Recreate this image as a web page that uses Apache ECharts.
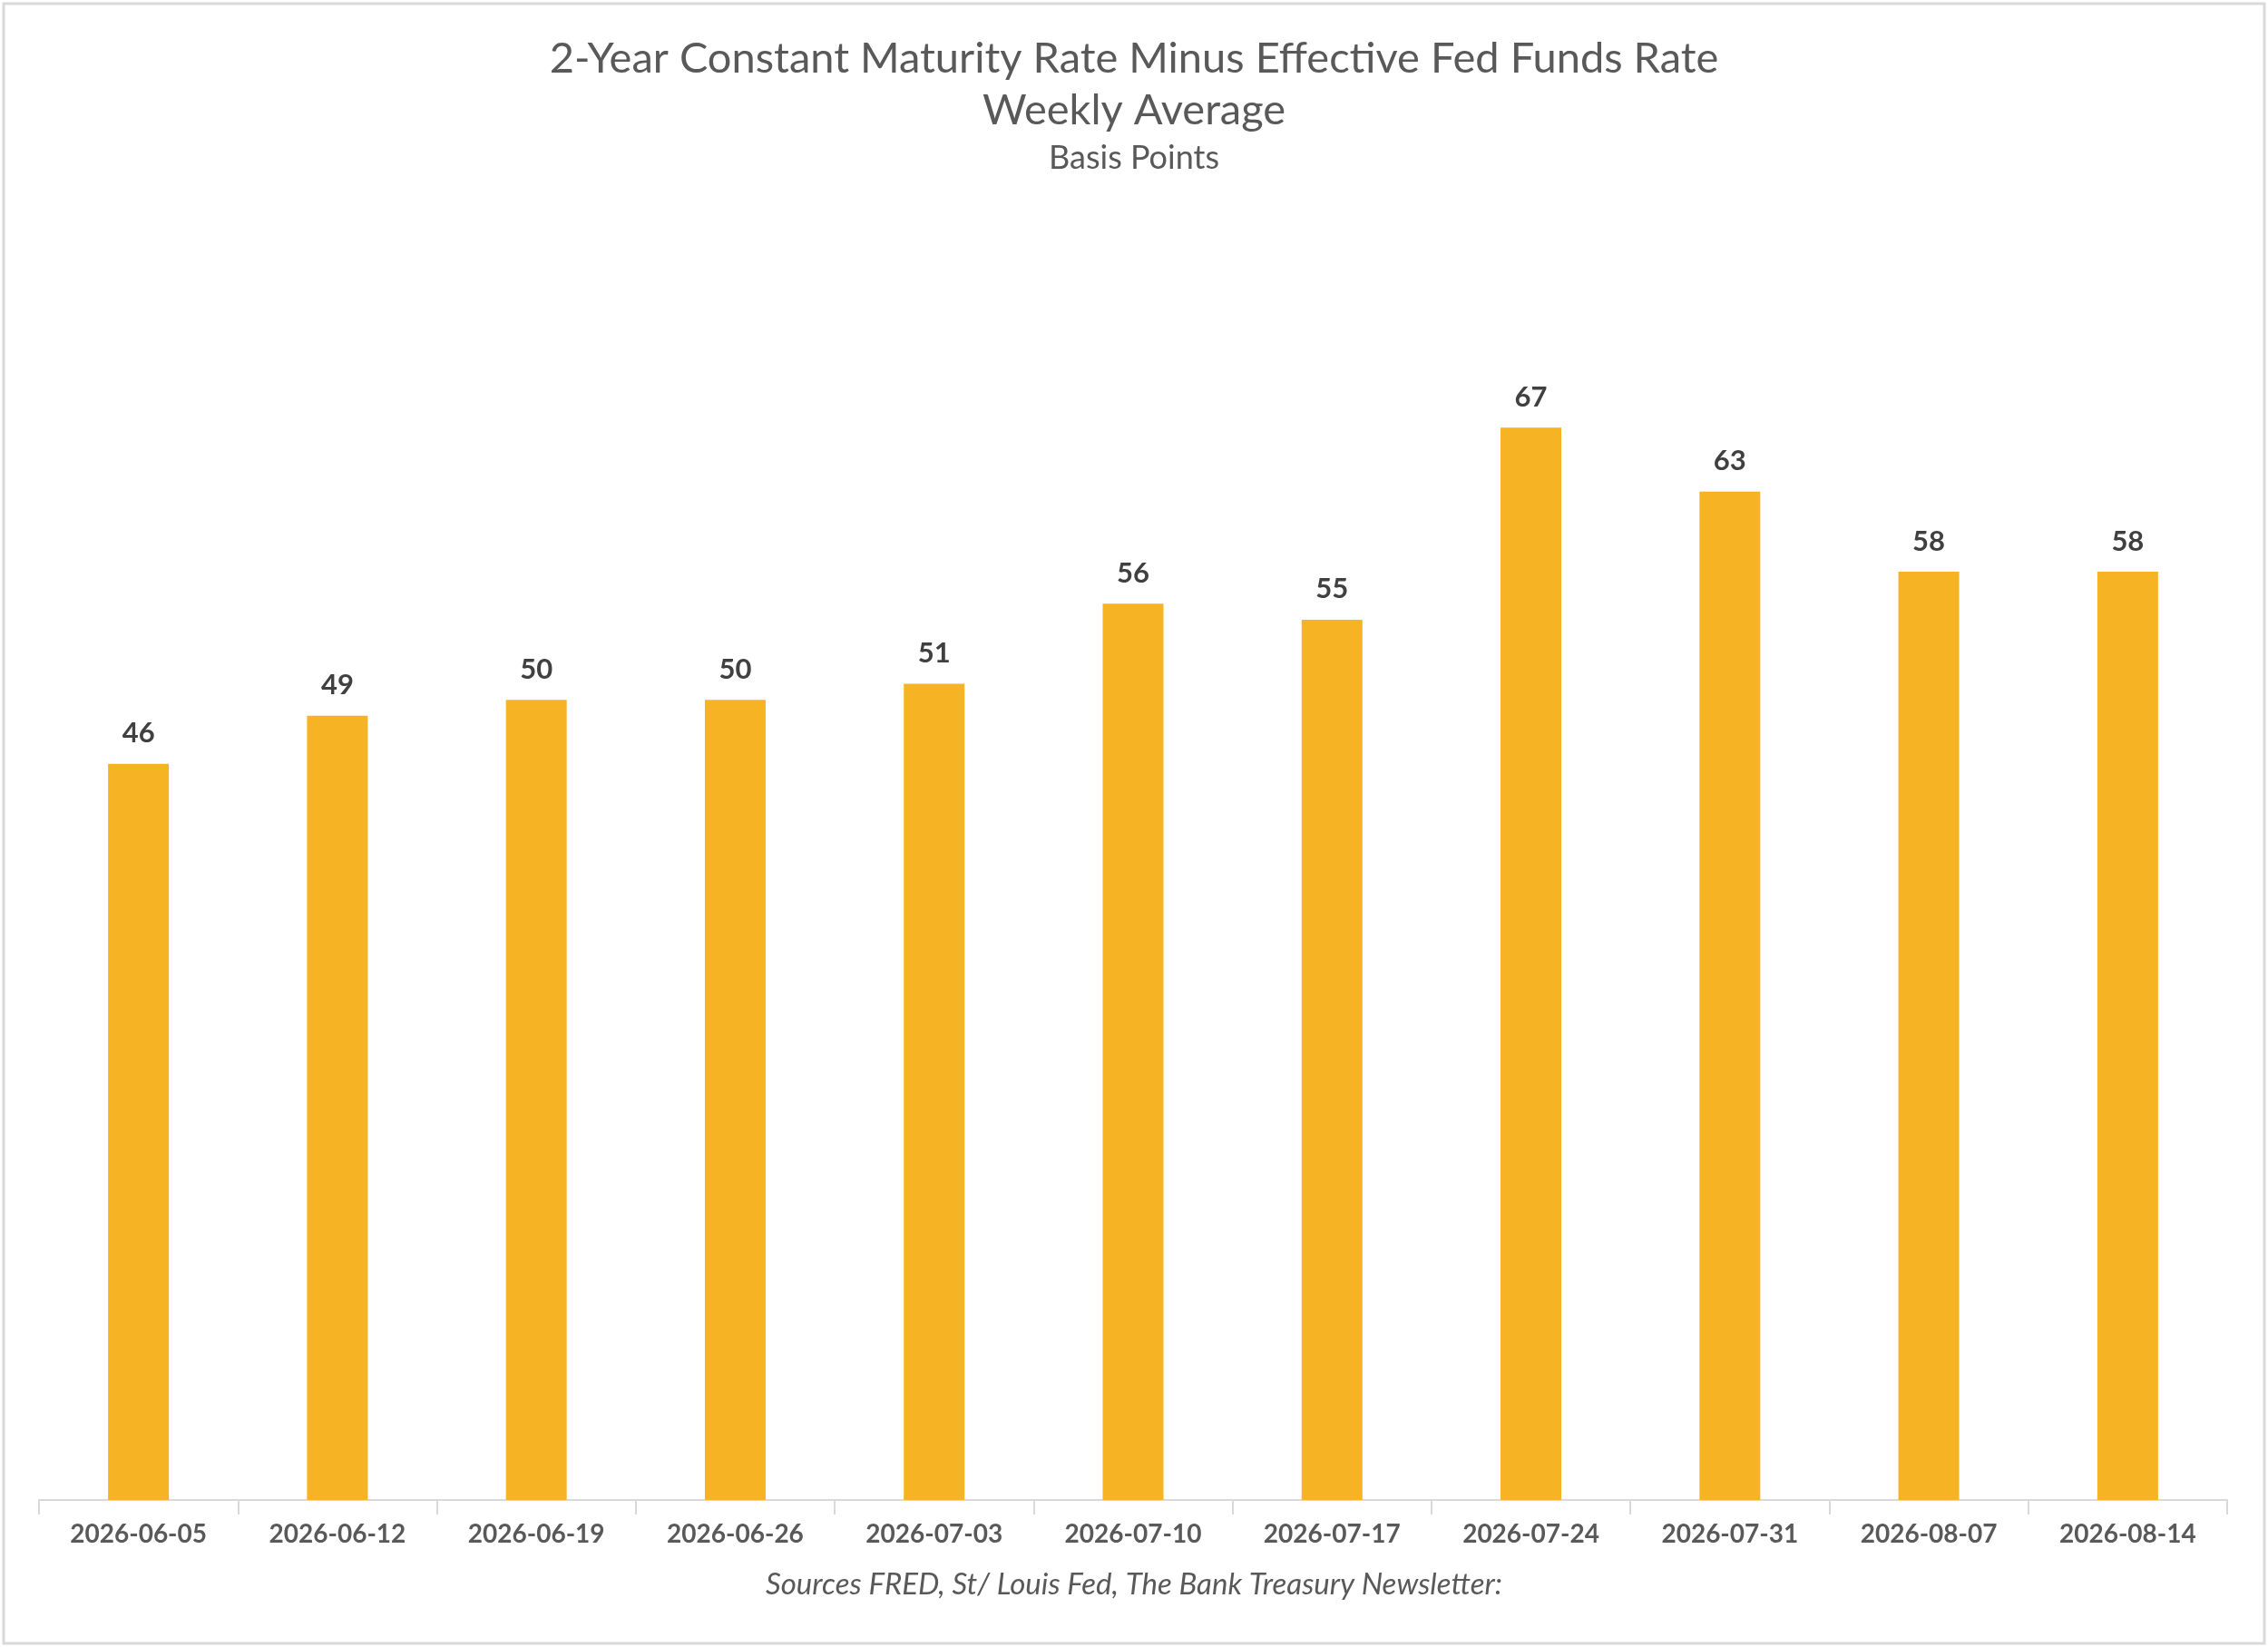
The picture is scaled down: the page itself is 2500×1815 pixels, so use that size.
<!DOCTYPE html>
<html>
<head>
<meta charset="utf-8">
<script src="https://cdn.jsdelivr.net/npm/echarts@6/dist/echarts.min.js"></script>
<style>
  html, body { margin: 0; padding: 0; background: #ffffff; }
  #chart { width: 2500px; height: 1815px; }
</style>
</head>
<body>
<div id="chart"></div>
<script>
////--------------------------------------------------------------------////
const weeks   = ['2026-06-05','2026-06-12','2026-06-19','2026-06-26','2026-07-03','2026-07-10',
                 '2026-07-17','2026-07-24','2026-07-31','2026-08-07','2026-08-14'];
const spread  = [46, 49, 50, 50, 51, 56, 55, 67, 63, 58, 58];
const title_lines = ['2-Year Constant Maturity Rate Minus Effective Fed Funds Rate', 'Weekly Average'];
const unit_text   = 'Basis Points';
const source_text = 'Sources FRED, St/ Louis Fed, The Bank Treasury Newsletter:';
////--------------------------------------------------------------------////
const font_main = 'Lato, "Open Sans", sans-serif';

const chart = echarts.init(document.getElementById('chart'), null, {renderer: 'canvas'});
const option = {
    backgroundColor: '#ffffff',
    animation: false,
    graphic: [{
        type: 'rect',
        shape: {x: 4, y: 4, width: 2492, height: 1807},
        style: {fill: 'none', stroke: '#d9d9d9', lineWidth: 3}
    }],
    title: [
        {
            text: title_lines.join('\n'),
            left: 'center', top: 36, padding: 0,
            textStyle: {color: '#595959', fontFamily: font_main, fontSize: 47, fontWeight: 'normal', lineHeight: 57, align: 'center'}
        },
        {
            text: unit_text,
            left: 'center', top: 155, padding: 0,
            textStyle: {color: '#595959', fontFamily: font_main, fontSize: 36, fontWeight: 'normal', lineHeight: 38}
        },
        {
            text: source_text,
            left: 'center', top: 1728, padding: 0,
            textStyle: {color: '#595959', fontFamily: font_main, fontSize: 33, fontStyle: 'italic', fontWeight: 'normal', lineHeight: 36}
        }
    ],
    grid: {left: 43, right: 45, top: 242, bottom: 162, containLabel: false},
    xAxis: {
        type: 'category',
        data: weeks,
        axisLine: {lineStyle: {color: '#d9d9d9', width: 2}},
        axisTick: {show: true, length: 16, lineStyle: {color: '#d9d9d9', width: 2}},
        axisLabel: {color: '#595959', fontFamily: font_main, fontSize: 28, fontWeight: 'bold', margin: 24, interval: 0}
    },
    yAxis: {
        type: 'value',
        min: 0, max: 80,
        show: false,
        splitLine: {show: false}
    },
    series: [{
        type: 'bar',
        data: spread,
        barWidth: 67,
        itemStyle: {color: '#F6B324'},
        label: {
            show: true, position: 'top', distance: 18,
            color: '#404040', fontFamily: font_main, fontSize: 31, fontWeight: 'bold'
        }
    }]
};
chart.setOption(option);
window.addEventListener('resize', chart.resize);
</script>
</body>
</html>
